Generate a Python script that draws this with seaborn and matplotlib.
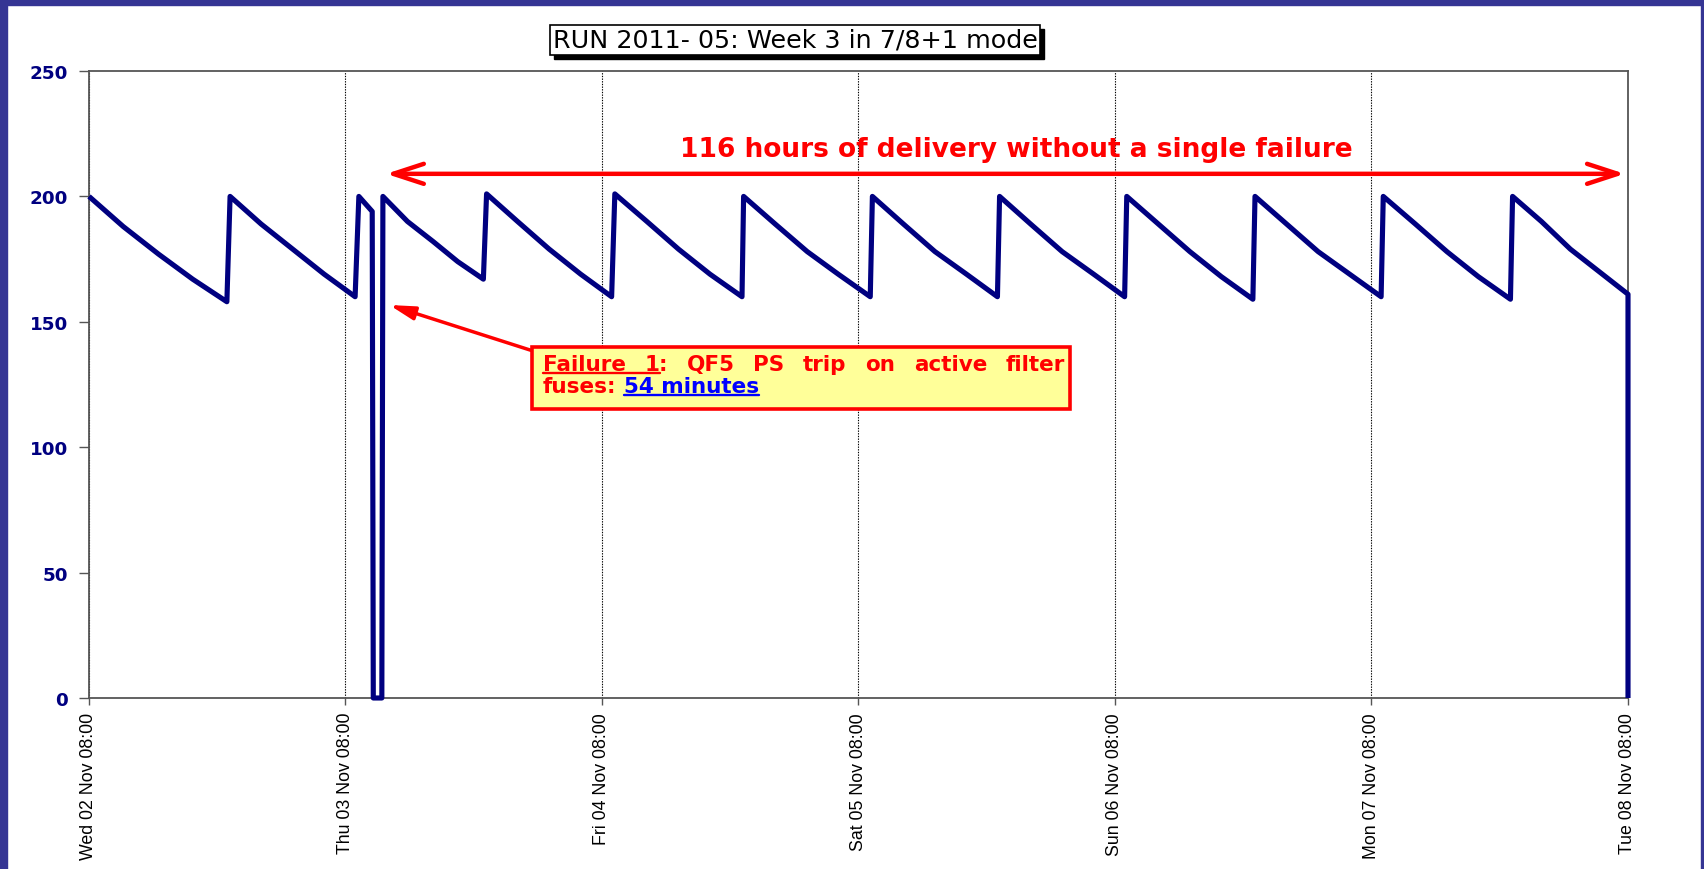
import numpy as np
import pandas as pd
import matplotlib
matplotlib.use("Agg")
import matplotlib.pyplot as plt
import matplotlib.dates as mdates
from matplotlib.patches import Rectangle
from matplotlib.lines import Line2D
from matplotlib.transforms import IdentityTransform
import seaborn as sns

# ---------------- data ----------------
START = pd.Timestamp("2011-11-02 08:00")
hours = [0.0, 3.2, 6.5, 9.7, 12.9,
         13.2, 16.1, 19.05, 22.0, 24.9,
         25.25, 26.5, 26.6, 27.4,
         27.5, 29.8, 32.2, 34.5, 36.9,
         37.2, 40.1, 43.05, 46.0, 48.9,
         49.2, 52.2, 55.15, 58.1, 61.1,
         61.25, 64.2, 67.2, 70.1, 73.1,
         73.3, 76.2, 79.15, 82.1, 85.0,
         85.2, 88.1, 91.05, 94.0, 96.9,
         97.1, 100.05, 103.0, 105.95, 108.9,
         109.1, 112.05, 115.0, 117.95, 120.9,
         121.1, 124.1, 127.05, 130.0, 133.0,
         133.2, 135.9, 138.6, 141.3, 144.0,
         144.0]
intensity = [200, 188, 177, 167, 158,
             200, 189, 179, 169, 160,
             200, 194, 0, 0,
             200, 190, 182, 174, 167,
             201, 190, 179, 169, 160,
             201, 190, 179, 169, 160,
             200, 189, 178, 169, 160,
             200, 189, 178, 169, 160,
             200, 189, 178, 169, 160,
             200, 189, 178, 168, 159,
             200, 189, 178, 169, 160,
             200, 189, 178, 168, 159,
             200, 190, 179, 170, 161,
             0]
y_ticks = [0, 50, 100, 150, 200, 250]
x_span_hours = 144
title_text = "RUN 2011- 05: Week 3 in 7/8+1 mode"
delivery_text = "116 hours of delivery without a single failure"
failure_line1 = "Failure 1: QF5 PS trip on active filter"
failure_line2_a = "fuses:"
failure_line2_b = "54 minutes"

NAVY = "#000080"
FRAME = "#353594"

sns.set_style("white")
plt.rcParams["font.family"] = ["DejaVu Sans"]

W, H = 1704, 870
fig = plt.figure(figsize=(W / 100, H / 100), dpi=100)
fig.patch.set_facecolor("white")
ax = fig.add_axes([89 / W, 1 - 699 / H, (1628 - 89) / W, (699 - 72) / H])

df = pd.DataFrame({"time": START + pd.to_timedelta(hours, unit="h"),
                   "intensity": intensity})
sns.lineplot(data=df, x="time", y="intensity", sort=False, estimator=None,
             color=NAVY, linewidth=3.7, ax=ax)
for ln in ax.lines:
    ln.set_solid_joinstyle("round")
    ln.set_solid_capstyle("butt")
    ln.set_clip_on(False)
    ln.set_zorder(4)


def X(h):
    return mdates.date2num((START + pd.Timedelta(hours=h)).to_pydatetime())


ax.set_xlim(X(0), X(x_span_hours))
ax.set_ylim(0, 250)
ax.set_yticks(y_ticks)
ax.xaxis.set_major_locator(mdates.HourLocator(byhour=[8]))
ax.xaxis.set_major_formatter(mdates.DateFormatter("%a %d %b %H:%M"))
ax.set_xlabel("")
ax.set_ylabel("")

for s in ax.spines.values():
    s.set_color("#555555")
    s.set_linewidth(1.3)
    s.set_visible(True)

ax.tick_params(axis="x", direction="out", length=5, width=1, color="#555555",
               labelsize=12.8, labelcolor="black", pad=5, labelrotation=90,
               bottom=True)
ax.tick_params(axis="y", direction="out", length=7, width=1, color="#555555",
               labelsize=13.2, labelcolor=NAVY, pad=8, left=True)
for lbl in ax.get_xticklabels():
    lbl.set_fontfamily(["Liberation Sans", "DejaVu Sans"])
for lbl in ax.get_yticklabels():
    lbl.set_fontweight("bold")

ax.grid(False)
ax.grid(axis="x", color="black", linestyle=(0, (1.2, 1.2)), linewidth=0.8)

# ---- delivery annotation ----
ax.text(X(86.8), 219.0, delivery_text, color="red", fontweight="bold",
        fontsize=19, ha="center", va="center", zorder=6)
ax.annotate("", xy=(X(143.7), 209), xytext=(X(27.8), 209),
            arrowprops=dict(arrowstyle="<->,head_length=1.1,head_width=0.36",
                            color="red", lw=3.2, mutation_scale=20,
                            shrinkA=0, shrinkB=0), zorder=6)

# ---- failure annotation ----
box_t0, box_t1, box_v0, box_v1 = 41.45, 91.8, 115.2, 140.0
ax.annotate("", xy=(X(28.1), 156.7), xytext=(X(box_t0), 138.5),
            arrowprops=dict(arrowstyle="-|>,head_length=0.75,head_width=0.2",
                            color="red", lw=2.5, mutation_scale=20,
                            shrinkA=0, shrinkB=0), zorder=5)
ax.add_patch(Rectangle((X(box_t0), box_v0), X(box_t1) - X(box_t0),
                       box_v1 - box_v0, facecolor="#FFFF99", edgecolor="red",
                       linewidth=2.6, zorder=6))

# title
title = fig.text(795 / W, 1 - 41 / H, title_text, fontsize=18.3, ha="center",
                 va="center", color="black", zorder=5,
                 bbox=dict(boxstyle="square,pad=0.12", fc="white",
                           ec="black", lw=1.2))

# frame
fig.add_artist(Rectangle((0, 0), 7 / W, 1, transform=fig.transFigure,
                         color=FRAME, zorder=10))
fig.add_artist(Rectangle((0, 1 - 6 / H), 1, 6 / H, transform=fig.transFigure,
                         color=FRAME, zorder=10))
fig.add_artist(Rectangle((1 - 3 / W, 0), 3 / W, 1, transform=fig.transFigure,
                         color=FRAME, zorder=10))

fig.canvas.draw()
r = fig.canvas.get_renderer()
ident = IdentityTransform()

# title shadow
tb = title.get_bbox_patch().get_window_extent(r)
fig.add_artist(Rectangle((tb.x0 + 4, tb.y0 - 4), tb.width, tb.height,
                         transform=ident, color="black", zorder=4))

fkw = dict(fontsize=15.5, fontweight="bold", transform=ident, va="baseline",
           ha="left", zorder=7)


def measure(s):
    t = fig.text(0, 0, s, **fkw)
    w = t.get_window_extent(r).width
    t.remove()
    return w


bx0, by1 = ax.transData.transform((X(box_t0), box_v1))
bx1, by0 = ax.transData.transform((X(box_t1), box_v0))
xl, xr = bx0 + 11, bx1 - 5
base1, base2 = by1 - 23, by1 - 45

words = failure_line1.split()
widths = [measure(w) for w in words]
gap = (xr - xl - sum(widths)) / (len(words) - 1)
x = xl
xs = []
for w, wd in zip(words, widths):
    fig.text(x, base1, w, color="red", **fkw)
    xs.append(x)
    x += wd + gap
# underline "Failure 1"
ul_end = xs[1] + measure(words[1].rstrip(":"))
fig.add_artist(Line2D([xs[0], ul_end], [base1 - 3, base1 - 3], color="red",
                      lw=1.7, transform=ident, zorder=7))

space = measure("a a") - 2 * measure("a")
fig.text(xl, base2, failure_line2_a, color="red", **fkw)
x2 = xl + measure(failure_line2_a) + space
fig.text(x2, base2, failure_line2_b, color="#0000FF", **fkw)
fig.add_artist(Line2D([x2, x2 + measure(failure_line2_b)], [base2 - 3, base2 - 3],
                      color="#0000FF", lw=1.7, transform=ident, zorder=7))

fig.savefig("out.png", dpi=100, facecolor="white")
